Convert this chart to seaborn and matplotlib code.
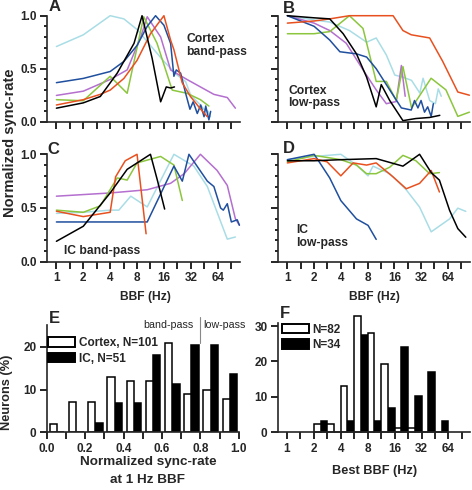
import numpy as np
import pandas as pd
import seaborn as sns
import matplotlib.pyplot as plt
from matplotlib.patches import Patch

W, H = 472, 490

# line colours of the six example neurons per panel
COLORS = {"cyan": "#a9dde6", "purple": "#b46fcf", "green": "#8cc63e",
          "blue": "#1f4f9e", "red": "#e8511f", "black": "#000000"}
ORDER = ["cyan", "purple", "green", "blue", "red", "black"]

# A: cortex band-pass, (BBF in Hz, normalized sync-rate)
A_CURVES = {
    "cyan": ([1, 2, 4, 5.7, 8, 11.3, 16, 22.6, 28, 32, 40, 45, 50, 53],
             [0.71, 0.82, 1.0, 0.97, 0.87, 0.72, 0.57, 0.44, 0.38, 0.25, 0.17, 0.12, 0.1, 0.05]),
    "purple": ([1, 2, 4, 6.2, 8.8, 10.4, 14.7, 19, 29, 41, 58, 82, 101],
               [0.25, 0.29, 0.40, 0.49, 0.80, 0.99, 0.80, 0.49, 0.40, 0.33, 0.26, 0.23, 0.13]),
    "green": ([1, 2, 4, 6.2, 9.5, 13.4, 19.8, 29, 41, 51],
              [0.21, 0.20, 0.43, 0.27, 0.99, 0.74, 0.30, 0.27, 0.21, 0.15]),
    "blue": ([1, 2, 4, 5.7, 8, 10.4, 12.9, 16, 19, 20.7, 22, 24.6, 28, 31.3, 34, 37.8, 41.3, 45, 47, 51, 53.4],
             [0.37, 0.41, 0.475, 0.57, 0.72, 0.90, 1.0, 0.91, 0.74, 0.43, 0.49, 0.46, 0.27, 0.12, 0.19,
              0.08, 0.16, 0.05, 0.15, 0.02, 0.10]),
    "red": ([1, 2, 3.1, 4, 5.7, 8, 11.3, 16, 19, 20.7, 25.6, 31.7, 41.3, 49],
            [0.16, 0.21, 0.26, 0.30, 0.41, 0.58, 0.83, 1.0, 0.77, 0.68, 0.37, 0.24, 0.12, 0.05]),
    "black": ([1, 2, 3.1, 4.8, 7.4, 9.1, 11.8, 14.7, 17, 19, 21],
              [0.13, 0.18, 0.24, 0.46, 0.74, 1.0, 0.60, 0.19, 0.33, 0.32, 0.33]),
}

# B: cortex low-pass
B_CURVES = {
    "cyan": ([1, 2, 3, 5, 7.8, 10, 13, 16.2, 20, 25, 31, 33.7, 40, 46.4, 50, 54],
             [1.0, 0.96, 0.94, 0.86, 0.75, 0.79, 0.63, 0.44, 0.42, 0.39, 0.27, 0.41, 0.20, 0.17, 0.31, 0.24]),
    "purple": ([1, 2, 3, 4.6, 7.1, 10, 13, 16.8, 19.2, 21.2],
               [1.0, 0.93, 0.86, 0.74, 0.49, 0.30, 0.17, 0.19, 0.53, 0.24]),
    "green": ([1, 2, 3, 5, 7.1, 10, 13, 16.8, 20, 25, 41.5, 61, 83, 112],
              [0.83, 0.83, 0.85, 1.0, 0.88, 0.38, 0.38, 0.20, 0.52, 0.13, 0.41, 0.30, 0.05, 0.09]),
    "blue": ([1, 2, 3, 3.9, 6, 7.8, 10, 14.2, 19.2, 24.8, 27, 29.5, 32, 35, 38, 41.6, 44],
             [1.0, 0.90, 0.77, 0.66, 0.64, 0.61, 0.50, 0.30, 0.13, 0.11, 0.20, 0.13, 0.20, 0.09, 0.14,
              0.05, 0.17]),
    "red": ([1, 2, 3, 5, 15.5, 20, 24.8, 40, 56, 83, 112],
            [0.93, 0.95, 0.97, 1.0, 1.0, 0.86, 0.82, 0.79, 0.57, 0.28, 0.25]),
    "black": ([1, 2, 3, 4.25, 6, 7.8, 10, 11.4, 14.2, 20, 28, 40, 52],
              [1.0, 0.98, 0.97, 0.83, 0.64, 0.42, 0.14, 0.35, 0.20, 0.01, 0.03, 0.04, 0.06]),
}

# C: IC band-pass
C_CURVES = {
    "cyan": ([1, 2, 4, 5, 6.8, 10.4, 20.7, 34.6, 49, 82, 101],
             [0.45, 0.46, 0.48, 0.48, 0.61, 0.51, 1.0, 0.89, 0.70, 0.21, 0.23]),
    "purple": ([1, 4, 10.4, 19, 27, 41, 63, 82, 101, 112],
               [0.61, 0.64, 0.67, 0.73, 0.82, 1.0, 0.85, 0.71, 0.40, 0.34]),
    "green": ([1, 2, 3.1, 4.8, 6.2, 8, 14.7, 20.7, 25.7],
              [0.48, 0.46, 0.52, 0.78, 0.76, 0.92, 0.98, 0.90, 0.57]),
    "blue": ([1, 10.4, 20.7, 25.7, 30.5, 49, 58, 69, 74, 82, 91, 106, 112],
             [0.37, 0.37, 0.89, 0.75, 1.0, 0.75, 0.70, 0.50, 0.48, 0.54, 0.37, 0.39, 0.34]),
    "red": ([1, 2, 4, 4.6, 5.9, 8, 10.1],
            [0.47, 0.42, 0.46, 0.79, 0.94, 1.0, 0.26]),
    "black": ([1, 2, 4, 6.2, 11.3, 13.5, 16.3],
              [0.19, 0.33, 0.64, 0.86, 1.0, 0.76, 0.49]),
}

# D: IC low-pass
D_CURVES = {
    "cyan": ([1, 2, 4, 6, 8.1, 9.2, 14.2, 21.8, 30.8, 41.6, 67, 83, 102],
             [0.95, 0.98, 1.0, 0.90, 0.80, 0.89, 0.82, 0.67, 0.51, 0.28, 0.40, 0.50, 0.47]),
    "green": ([1, 2, 4, 6, 7.8, 10, 14.2, 20, 28, 40, 51.5],
              [0.93, 0.99, 0.95, 0.90, 0.82, 0.82, 0.88, 0.99, 0.94, 0.82, 0.83]),
    "blue": ([1, 2, 2.2, 3, 4, 6, 8.1, 10],
             [0.95, 1.0, 0.95, 0.78, 0.57, 0.40, 0.34, 0.21]),
    "red": ([1, 2, 2.8, 4, 5.5, 7.8, 10, 15.5, 21.8, 30.8, 41.6, 51.5],
            [0.92, 0.96, 0.93, 0.80, 0.92, 0.90, 0.92, 0.79, 0.68, 0.73, 0.85, 0.65]),
    "black": ([1, 2, 4, 10, 20, 30.8, 41.6, 51.5, 67, 83, 102],
              [0.94, 0.94, 0.95, 0.96, 0.89, 1.0, 0.83, 0.76, 0.48, 0.31, 0.23]),
}

# E: normalized sync-rate at 1 Hz (bin lower edges) and % neurons
sync_bins = [0.0, 0.1, 0.2, 0.3, 0.4, 0.5, 0.6, 0.7, 0.8, 0.9]
cortex_sync_pct = [2.0, 7.0, 7.0, 12.9, 11.9, 11.9, 20.8, 8.9, 9.9, 7.9]
ic_sync_pct = [0.0, 0.0, 2.1, 6.8, 6.8, 18.1, 11.3, 20.5, 20.5, 13.6]

# F: best BBF (half-octave bin lower edges, Hz) and % neurons
bbf_bins_hz = [2, 2.8, 4, 5.7, 8, 11.3, 16, 22.6, 32, 45.3]
cortex_bbf_pct = [2.3, 2.3, 13.2, 32.8, 27.9, 19.3, 1.3, 1.3, 0.0, 0.0]
ic_bbf_pct = [3.3, 0.0, 3.3, 27.6, 3.3, 6.8, 24.2, 10.2, 17.1, 3.3]

OCT_TICKS = [1, 2, 4, 8, 16, 32, 64]

sns.set_style("ticks")
plt.rcParams["font.family"] = ["Liberation Sans", "DejaVu Sans"]
plt.rcParams["font.weight"] = "bold"
plt.rcParams["axes.linewidth"] = 1.2

fig = plt.figure(figsize=(W / 100, H / 100), dpi=100)


def px_axes(left, top, right, bottom):
    return fig.add_axes([left / W, 1 - bottom / H, (right - left) / W, (bottom - top) / H])


def ftext(x, y, s, **kw):
    fig.text(x / W, 1 - y / H, s, **kw)


def style_axes(ax):
    sns.despine(ax=ax)
    ax.tick_params(which="both", direction="out", width=1.2, length=5,
                   pad=2.5, labelsize=8.5, color="black")
    for lbl in ax.get_xticklabels() + ax.get_yticklabels():
        lbl.set_fontweight("bold")


def octave_axis(ax, labels):
    ax.set_xlim(-0.35, 6.83)
    ax.set_xticks(np.log2(OCT_TICKS))
    ax.set_xticks(np.arange(0.5, 7, 1.0), minor=True)
    ax.set_xticklabels([str(t) for t in OCT_TICKS] if labels else [])


def line_panel(ax, curves, xlabels, ylabels):
    rows = []
    for name, (hz, rate) in curves.items():
        for f, r in zip(hz, rate):
            rows.append({"curve": name, "octave": np.log2(f), "rate": r})
    df = pd.DataFrame(rows)
    order = [c for c in ORDER if c in curves]
    sns.lineplot(data=df, x="octave", y="rate", hue="curve", hue_order=order,
                 palette=COLORS, estimator=None, sort=False, legend=False,
                 linewidth=1.1, clip_on=False, ax=ax)
    ax.set_ylim(0, 1.0)
    ax.set_yticks([0, 0.5, 1.0])
    ax.set_yticks(np.arange(0, 1.01, 0.1), minor=True)
    ax.set_yticklabels(["0.0", "0.5", "1.0"] if ylabels else [])
    octave_axis(ax, xlabels)
    ax.set_xlabel("")
    ax.set_ylabel("")
    style_axes(ax)
    ax.tick_params(axis="y", which="minor", length=2.5)


ax_a = px_axes(47, 15.7, 240, 122)
ax_b = px_axes(278, 15.7, 470, 121.7)
ax_c = px_axes(47, 154.3, 240, 261.7)
ax_d = px_axes(278, 154.3, 470, 262)
line_panel(ax_a, A_CURVES, False, True)
line_panel(ax_b, B_CURVES, False, False)
line_panel(ax_c, C_CURVES, True, True)
line_panel(ax_d, D_CURVES, True, False)

# E histogram
ax_e = px_axes(46.7, 325.5, 238.7, 432.3)
df_e = pd.DataFrame({
    "x": [b + 0.05 for b in sync_bins] * 2,
    "pct": cortex_sync_pct + ic_sync_pct,
    "group": ["Cortex"] * len(sync_bins) + ["IC"] * len(sync_bins),
})
sns.histplot(data=df_e, x="x", weights="pct", hue="group", hue_order=["Cortex", "IC"],
             bins=(np.arange(11) * 0.1 + 0.004).tolist(), multiple="dodge", shrink=0.76,
             palette={"Cortex": "white", "IC": "black"}, edgecolor="black",
             linewidth=1.1, alpha=1, legend=False, ax=ax_e)
ax_e.set_xlim(0, 1.0)
ax_e.set_ylim(0, 25)
ax_e.set_xticks(np.arange(0, 1.01, 0.2))
ax_e.set_xticks(np.arange(0.1, 1.0, 0.2), minor=True)
ax_e.set_xticklabels([f"{v:.1f}" for v in np.arange(0, 1.01, 0.2)])
ax_e.set_yticks([0, 10, 20])
ax_e.set_xlabel("")
ax_e.set_ylabel("")
style_axes(ax_e)
ax_e.plot([0.8, 0.8], [20.9, 26.9], color="#888888", lw=0.8, clip_on=False)
leg_kw = dict(loc="upper left", frameon=False, borderpad=0, borderaxespad=0,
              handlelength=2.3, handleheight=0.85, handletextpad=0.3, labelspacing=0.3,
              prop={"size": 8.5, "weight": "bold"})
ax_e.legend(handles=[Patch(facecolor="white", edgecolor="black", linewidth=1.4),
                     Patch(facecolor="black", edgecolor="black", linewidth=1.4)],
            labels=["Cortex, N=101", "IC, N=51"], bbox_to_anchor=(0.008, 0.89), **leg_kw)

# F histogram
ax_f = px_axes(278, 322.5, 470, 432.3)
df_f = pd.DataFrame({
    "x": [np.log2(f) + 0.25 for f in bbf_bins_hz] * 2,
    "pct": cortex_bbf_pct + ic_bbf_pct,
    "group": ["Cortex"] * len(bbf_bins_hz) + ["IC"] * len(bbf_bins_hz),
})
sns.histplot(data=df_f, x="x", weights="pct", hue="group", hue_order=["Cortex", "IC"],
             bins=np.arange(1.0, 6.01, 0.5).tolist(), multiple="dodge", shrink=1.0,
             palette={"Cortex": "white", "IC": "black"}, edgecolor="black",
             linewidth=1.1, alpha=1, legend=False, ax=ax_f)
for p in ax_f.patches:
    p.set_clip_on(False)
ax_f.set_ylim(0, 31)
ax_f.set_yticks([0, 10, 20, 30])
octave_axis(ax_f, True)
ax_f.set_xlim(-0.33, 6.8)
ax_f.set_xlabel("")
ax_f.set_ylabel("")
style_axes(ax_f)
ax_f.legend(handles=[Patch(facecolor="white", edgecolor="black", linewidth=1.4),
                     Patch(facecolor="black", edgecolor="black", linewidth=1.4)],
            labels=["N=82", "N=34"], bbox_to_anchor=(0.02, 0.99), **leg_kw)

# panel letters
for s, x, y in [("A", 49, 11), ("B", 283, 12.7), ("C", 47, 154), ("D", 283, 152.7),
                ("E", 48.5, 323.3), ("F", 280, 318)]:
    ftext(x, y, s, fontsize=12, fontweight="bold", va="baseline")

# panel annotations
ann = dict(fontsize=8.7, fontweight="bold", va="baseline")
ftext(186.5, 41.7, "Cortex", **ann)
ftext(186.5, 54.5, "band-pass", **ann)
ftext(288.3, 93.5, "Cortex", **ann)
ftext(288.3, 106, "low-pass", **ann)
ftext(64, 254, "IC band-pass", **ann)
ftext(296, 233.3, "IC", **ann)
ftext(296, 246, "low-pass", **ann)
ftext(194, 327.5, "band-pass", fontsize=7.7, fontweight="normal", ha="right", va="baseline")
ftext(203.3, 327.5, "low-pass", fontsize=7.7, fontweight="normal", ha="left", va="baseline")

# axis labels
lab = dict(fontweight="bold", ha="center")
ftext(10.3, 142.5, "Normalized sync-rate", rotation=90, fontsize=10.5, va="center", **lab)
ftext(145, 297, "BBF (Hz)", fontsize=8.7, va="center", **lab)
ftext(374, 297, "BBF (Hz)", fontsize=8.7, va="center", **lab)
ftext(7, 392.5, "Neurons (%)", rotation=90, fontsize=9.2, va="center", **lab)
ftext(148, 464.8, "Normalized sync-rate", fontsize=9.7, va="baseline", **lab)
ftext(148, 482.5, "at 1 Hz BBF", fontsize=9.7, va="baseline", **lab)
ftext(375, 474, "Best BBF (Hz)", fontsize=9.2, va="baseline", **lab)

fig.savefig("out.png", dpi=100)
